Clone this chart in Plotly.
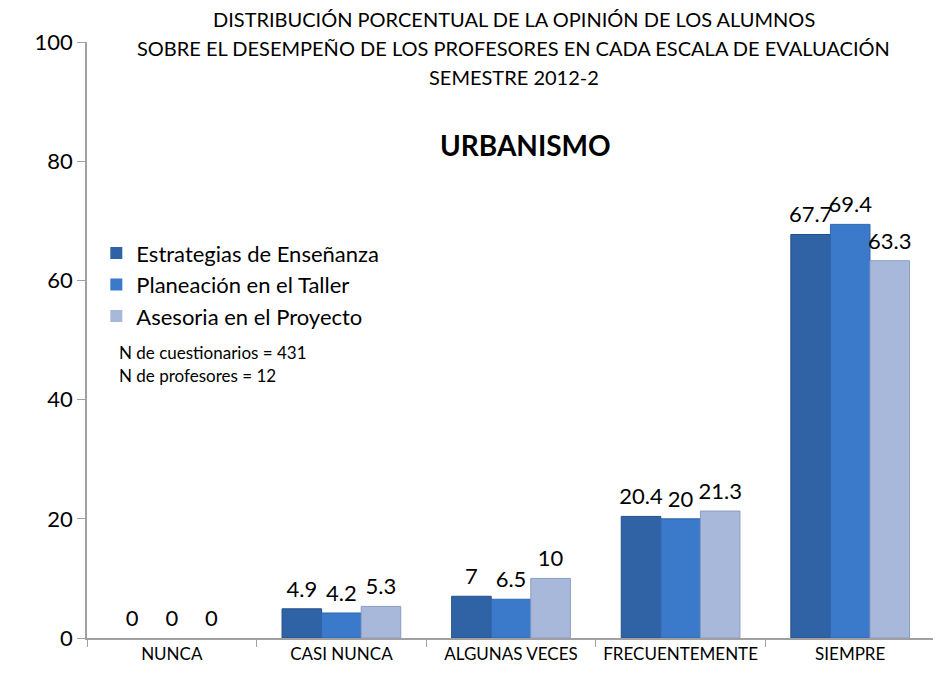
import plotly.graph_objects as go

categories = ["NUNCA", "CASI NUNCA", "ALGUNAS VECES", "FRECUENTEMENTE", "SIEMPRE"]
estrategias = [0, 4.9, 7, 20.4, 67.7]
planeacion = [0, 4.2, 6.5, 20, 69.4]
asesoria = [0, 5.3, 10, 21.3, 63.3]
series_names = ["Estrategias de Enseñanza", "Planeación en el Taller", "Asesoria en el Proyecto"]
colors = ["#2F63A5", "#3B7ACB", "#A8B8DA"]
line_colors = ["#24508A", "#2F66AE", "#8A9CC2"]

FONT = "Lato, 'Open Sans', sans-serif"
BARGAP = 0.3

fig = go.Figure()
for name, vals, c, lc in zip(series_names, [estrategias, planeacion, asesoria], colors, line_colors):
    fig.add_trace(go.Bar(
        x=categories, y=vals, name=name,
        marker=dict(color=c, line=dict(color=lc, width=[0 if v == 0 else 1 for v in vals])),
    ))
for name, vals in zip(series_names, [estrategias, planeacion, asesoria]):
    fig.add_trace(go.Scatter(
        x=categories, y=vals, mode="markers+text", showlegend=False,
        marker=dict(size=9, opacity=0), hoverinfo="skip",
        text=[f"{v:g}" for v in vals], textposition="top center",
        textfont=dict(size=22, color="black", family=FONT),
        cliponaxis=False, name=name,
    ))

fig.update_layout(
    width=941, height=677,
    margin=dict(l=79, r=14, t=34, b=47),
    paper_bgcolor="white", plot_bgcolor="white",
    barmode="group", bargap=BARGAP, bargroupgap=0,
    scattermode="group", scattergap=BARGAP,
    font=dict(family=FONT, color="black"),
    showlegend=True,
    legend=dict(x=0.011, y=0.681, xanchor="left", yanchor="top",
                font=dict(size=22, family=FONT), bgcolor="rgba(0,0,0,0)",
                itemwidth=30, tracegroupgap=0),
    xaxis=dict(showline=True, linecolor="#A0A0A0", linewidth=1.5,
               ticks="outside", tickson="boundaries", ticklen=7, tickcolor="#A0A0A0",
               tickfont=dict(size=17, family=FONT), showgrid=False),
    yaxis=dict(range=[0, 100], dtick=20, showline=True, linecolor="#A0A0A0", linewidth=1.5,
               ticks="outside", ticklen=8, tickcolor="#A0A0A0",
               tickfont=dict(size=22, family=FONT), showgrid=False, zeroline=False),
)

title_lines = [
    "DISTRIBUCIÓN PORCENTUAL DE LA OPINIÓN DE LOS ALUMNOS",
    "SOBRE EL DESEMPEÑO DE LOS PROFESORES EN CADA ESCALA DE EVALUACIÓN",
    "SEMESTRE 2012-2",
]
for i, t in enumerate(title_lines):
    fig.add_annotation(text=t, x=0.503, y=1.039 - i * 0.049, xref="paper", yref="paper",
                       showarrow=False, font=dict(size=20, family=FONT), xanchor="center", yanchor="middle")

fig.add_annotation(text="<b>URBANISMO</b>", x=0.517, y=0.827, xref="paper", yref="paper",
                   showarrow=False, font=dict(size=28, family=FONT), xanchor="center", yanchor="middle")
fig.add_annotation(text="N de cuestionarios = 431", x=0.035, y=0.479, xref="paper", yref="paper",
                   showarrow=False, font=dict(size=17, family=FONT), xanchor="left", yanchor="middle")
fig.add_annotation(text="N de profesores = 12", x=0.035, y=0.440, xref="paper", yref="paper",
                   showarrow=False, font=dict(size=17, family=FONT), xanchor="left", yanchor="middle")

fig.write_html("out.html")
